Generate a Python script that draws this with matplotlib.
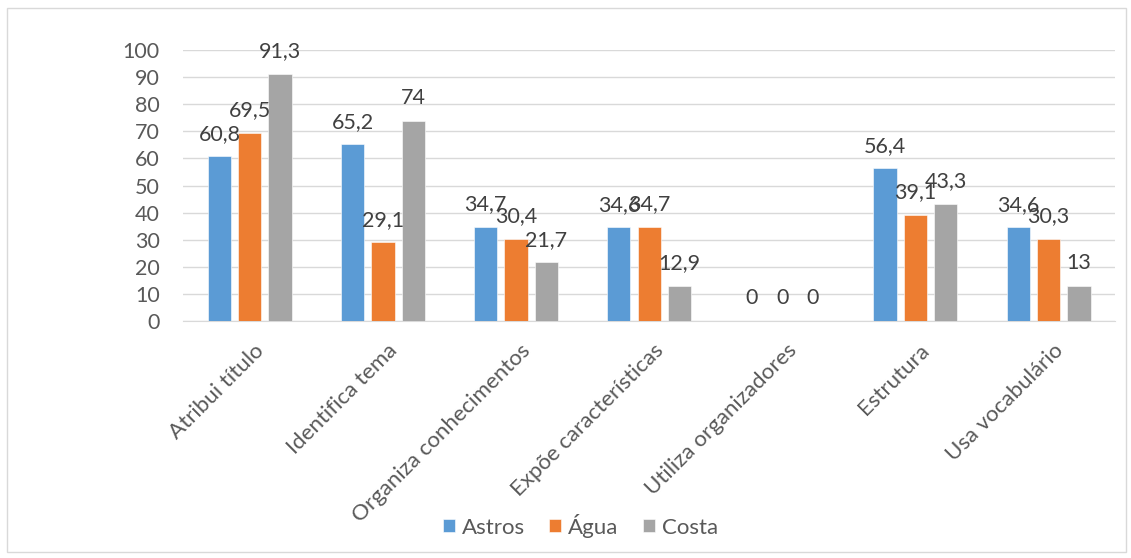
import numpy as np
import matplotlib.pyplot as plt
from matplotlib.patches import Rectangle

plt.rcParams['font.family'] = ['Lato', 'DejaVu Sans']

# categories and percentages per group
categories = ['Atribui título', 'Identifica tema', 'Organiza conhecimentos',
              'Expõe características', 'Utiliza organizadores', 'Estrutura',
              'Usa vocabulário']
astros = [60.8, 65.2, 34.7, 34.6, 0, 56.4, 34.6]
agua = [69.5, 29.1, 30.4, 34.7, 0, 39.1, 30.3]
costa = [91.3, 74, 21.7, 12.9, 0, 43.3, 13]
series = ['Astros', 'Água', 'Costa']
colors = ['#5B9BD5', '#ED7D31', '#A5A5A5']

txt = '#595959'
fs = 15.5
fig = plt.figure(figsize=(11.31, 5.58), dpi=100)
ax = fig.add_axes([0.162, 0.425, 0.824, 0.485])

x = np.arange(len(categories))
w = 0.175
step = 0.228
for i, (vals, name, c) in enumerate(zip([astros, agua, costa], series, colors)):
    pos = x + (i - 1) * step
    ax.bar(pos, vals, width=w, color=c, label=name,
           edgecolor='white', linewidth=0.4, zorder=3)
    for xp, v in zip(pos, vals):
        lab = ('%g' % v).replace('.', ',')
        ax.annotate(lab, (xp, v), xytext=(0, 9), textcoords='offset points',
                    ha='center', va='bottom', fontsize=fs, color='#404040', zorder=4)

ax.set_xlim(-0.5, len(categories) - 0.5)
ax.set_ylim(0, 100)
ax.set_yticks(np.arange(0, 101, 10))
ax.yaxis.grid(True, color='#D9D9D9', linewidth=1, zorder=0)
ax.tick_params(axis='y', length=0, labelsize=fs, labelcolor=txt, pad=17)
ax.tick_params(axis='x', length=0, labelsize=fs + 0.5, labelcolor=txt, pad=14)
ax.set_xticks(x + 0.03)
ax.set_xticklabels(categories, rotation=45, ha='right', rotation_mode='anchor')
for s in ['top', 'right', 'left']:
    ax.spines[s].set_visible(False)
ax.spines['bottom'].set_color('#D9D9D9')

ax.legend(loc='center', bbox_to_anchor=(0.513, 0.058), bbox_transform=fig.transFigure,
          ncol=3, frameon=False, fontsize=fs + 0.5, labelcolor=txt,
          handlelength=0.55, handleheight=0.55, handletextpad=0.3, columnspacing=1.1)

fig.patches.append(Rectangle((0.006, 0.01), 0.99, 0.975, transform=fig.transFigure,
                             fill=False, edgecolor='#D9D9D9', linewidth=1))

fig.savefig('out.png', dpi=100)
